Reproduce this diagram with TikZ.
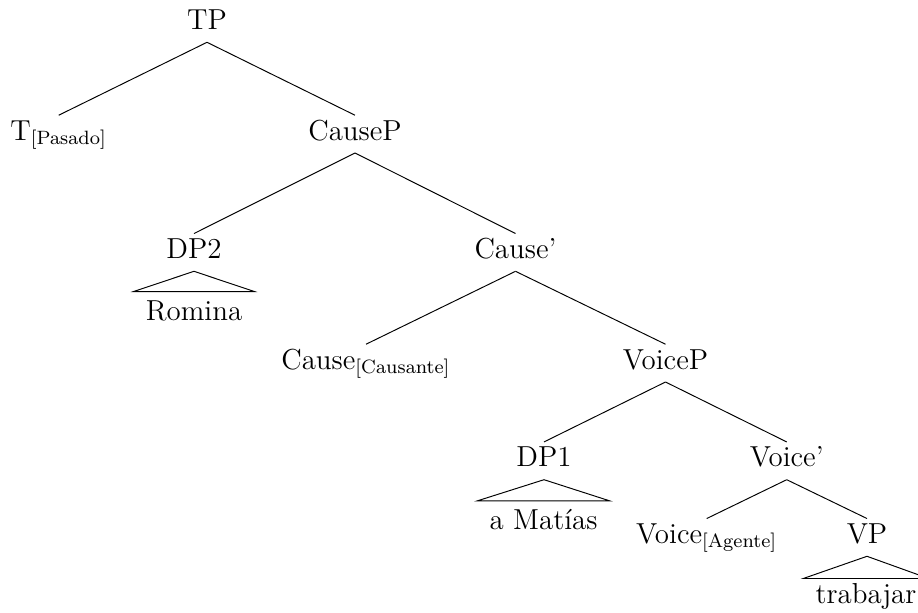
\documentclass[tikz,border=0pt,12pt]{standalone}
\begin{document}
\begin{tikzpicture}[x=0.415pt,y=-0.415pt,
  tn/.style={anchor=base,inner sep=0pt,text height=10.08pt,text depth=5.19pt},
  leaf/.style={anchor=base,inner ysep=0pt,inner xsep=4.9pt,text height=11.6pt,text depth=0pt},
  edge/.style={draw,line width=0.4pt}]
\useasboundingbox (0,0) rectangle (918,612);
\node[tn] (TP) at (207,29.3) {TP};
\node[tn] (T) at (58.7,140) {T$_{\mathrm{[Pasado]}}$};
\node[tn] (CauseP) at (355,140) {CauseP};
\node[tn] (DP2) at (194,258.3) {DP2};
\node[tn] (CauseBar) at (515.5,258.3) {Cause'};
\node[tn] (Cause) at (366,369) {Cause$_{\mathrm{[Causante]}}$};
\node[tn] (VoiceP) at (665.5,369) {VoiceP};
\node[tn] (DP1) at (544,466.7) {DP1};
\node[tn] (VoiceBar) at (786.7,466.7) {Voice'};
\node[tn] (Voice) at (706.7,543.3) {Voice$_{\mathrm{[Agente]}}$};
\node[tn] (VP) at (867,543.3) {VP};
\node[leaf] (Romina) at (194,320) {Romina};
\node[leaf] (Matias) at (543.5,529.3) {a Matías};
\node[leaf,text height=10.1pt] (trabajar) at (866,603.3) {trabajar};
\draw[edge] (TP.south) -- (T.north);
\draw[edge] (TP.south) -- (CauseP.north);
\draw[edge] (CauseP.south) -- (DP2.north);
\draw[edge] (CauseP.south) -- (CauseBar.north);
\draw[edge] (CauseBar.south) -- (Cause.north);
\draw[edge] (CauseBar.south) -- (VoiceP.north);
\draw[edge] (VoiceP.south) -- (DP1.north);
\draw[edge] (VoiceP.south) -- (VoiceBar.north);
\draw[edge] (VoiceBar.south) -- (Voice.north);
\draw[edge] (VoiceBar.south) -- (VP.north);
\draw[edge] (DP2.south) -- (Romina.north west) -- (Romina.north east) -- cycle;
\draw[edge] (DP1.south) -- (Matias.north west) -- (Matias.north east) -- cycle;
\draw[edge] (VP.south) -- (trabajar.north west) -- (trabajar.north east) -- cycle;
\end{tikzpicture}
\end{document}
